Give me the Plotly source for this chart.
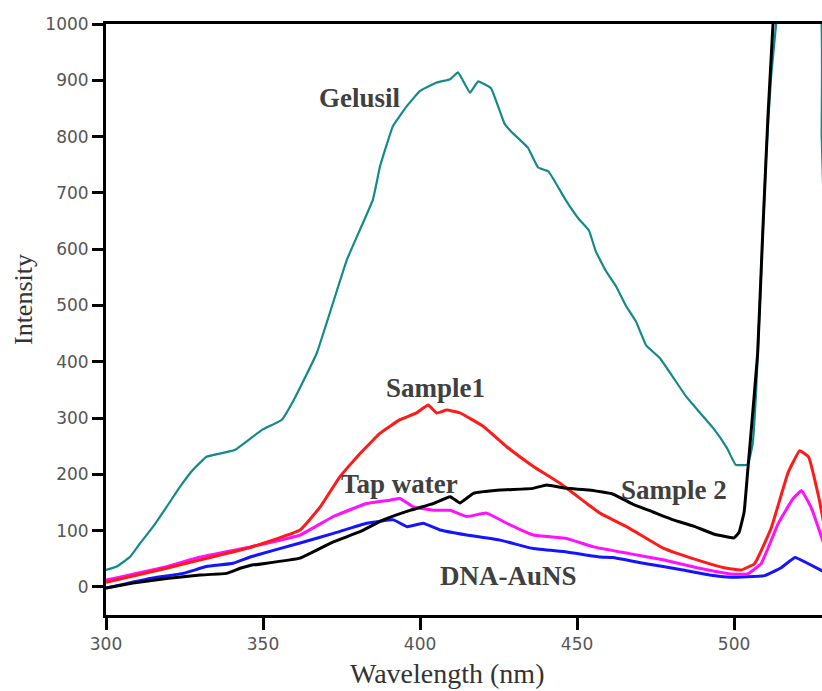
import plotly.graph_objects as go

# ---- data ----
gelusil_x = [300, 303.4, 307.6, 310.8, 315, 319.3, 323.6, 327.7, 332, 341, 349.7, 356, 359.8, 367.1,
             376.7, 385, 387.3, 391.4, 395.8, 400, 405.3, 409.6, 412.1, 415.9, 418.5, 422.6, 426.9,
             429, 434.4, 437.6, 440.9, 446.2, 450.5, 453.8, 455.9, 459.1, 462.4, 465.6, 468.8, 472,
             476.3, 480.6, 484.9, 489.2, 493.5, 497.8, 500.5, 504.3, 505.9, 507, 508.6, 510.2, 511.8,
             513.4, 515, 527.2, 527.9, 530]
gelusil_y = [30, 36, 53, 77, 107, 142, 178, 208, 231, 243, 279, 297, 332, 415,
             581, 688, 748, 819, 854, 881, 896, 902, 914, 878, 898, 886, 823,
             809, 780, 745, 738, 689, 654, 633, 597, 562, 534, 499, 471, 429,
             407, 372, 337, 309, 281, 246, 217, 217, 253, 344, 555, 766, 907,
             1000, 1100, 1050, 800, 400]

sample2_x = [300, 308.6, 319.3, 330, 338.4, 342.7, 345.9, 361.8, 372.4, 380.9, 388.3, 396.8, 404.2,
             409.6, 412.7, 417, 425.5, 436, 440.3, 446.7, 453.8, 461.3, 467.7, 474.2, 480.6, 487.1,
             493.5, 500, 501.6, 503.2, 504.3, 505.4, 507.5, 509.1, 510.8, 512.4, 514, 530]
sample2_y = [-2, 6.6, 15, 21, 24, 33, 38, 51, 80, 98, 119, 136, 148,
             160, 149, 166, 172, 175, 181, 175, 172, 165, 147, 133, 119, 108,
             94, 87, 97, 133, 203, 274, 414, 626, 837, 1000, 1150, 1150]

sample1_x = [300, 319.3, 330, 345.9, 361.8, 368.2, 374.5, 380.9, 387.3, 393.6, 398.9, 402.6, 405.3,
             408.5, 412.7, 420.2, 427.6, 436.1, 444.6, 453.1, 457.3, 466.7, 477.4, 488.2, 496.8,
             502.2, 506.5, 511.8, 517.2, 520.9, 523.7, 526.9, 528.6]
sample1_y = [8, 33, 48, 70, 101, 142, 196, 237, 273, 297, 309, 323, 309,
             314, 309, 285, 249, 214, 184, 148, 131, 104, 69, 48, 34,
             30, 41, 104, 203, 242, 231, 161, 112]

tap_x = [300, 319.3, 330, 345.9, 361.8, 372.4, 383, 390.4, 393.6, 397.9, 404.2, 409.6, 414.9, 421.2,
         427.6, 436.1, 446.7, 455.2, 466.7, 477.4, 488.2, 499, 504.3, 508.6, 514, 518.8, 521.5,
         524.7, 528.6]
tap_y = [12, 36, 53, 71, 92, 125, 148, 154, 157, 142, 136, 136, 125, 131,
         113, 92, 86, 71, 59, 48, 34, 23, 23, 41, 112, 157, 171,
         139, 76]

dna_x = [300, 314, 324.6, 332, 340.5, 345.9, 361.8, 372.4, 383, 391.5, 395.8, 401, 406.4, 414.9,
         425.5, 436.1, 446.7, 457.3, 461.3, 472, 482.8, 493.5, 498.9, 509.7, 515, 519.4, 523.7, 528.6]
dna_y = [-2, 15, 24, 36, 42, 53, 78, 95, 113, 119, 107, 113, 101, 92,
         83, 68, 62, 53, 52, 41, 31, 20, 17, 20, 34, 52, 41, 27]

x_ticks = [300, 350, 400, 450, 500]
y_ticks = [0, 100, 200, 300, 400, 500, 600, 700, 800, 900, 1000]

labels = ["Gelusil", "Sample1", "Tap water", "DNA-AuNS", "Sample 2"]
label_x = [381, 404.8, 393.5, 428.3, 481]
label_y = [868, 354, 183, 19, 172]

# ---- figure ----
fig = go.Figure()
series = [
    (gelusil_x, gelusil_y, "#13898a", 2.2),
    (dna_x, dna_y, "#1414ff", 3),
    (tap_x, tap_y, "#ff10ff", 3),
    (sample1_x, sample1_y, "#ff1a1a", 3),
    (sample2_x, sample2_y, "#000000", 3),
]
for xs, ys, col, w in series:
    fig.add_trace(go.Scatter(x=xs, y=ys, mode="lines",
                             line=dict(color=col, width=w, shape="spline", smoothing=0.3),
                             showlegend=False, hoverinfo="skip"))

for t, lx, ly in zip(labels, label_x, label_y):
    fig.add_annotation(x=lx, y=ly, text="<b>" + t + "</b>", showarrow=False,
                       font=dict(family="Liberation Serif", size=27, color="#404040"),
                       xanchor="center", yanchor="middle")

fig.add_annotation(xref="paper", yref="paper", x=0.476, y=-0.1286, text="Wavelength (nm)",
                   showarrow=False, xanchor="center", yanchor="bottom",
                   font=dict(family="Liberation Serif", size=28, color="#333333"))
fig.add_annotation(xref="paper", yref="paper", x=-0.1145, y=0.533, text="Intensity",
                   showarrow=False, textangle=-90, xanchor="center", yanchor="middle",
                   font=dict(family="Liberation Serif", size=26, color="#333333"))

tickfont = dict(family="DejaVu Sans", size=17, color="#555555")
fig.update_xaxes(range=[300, 528], tickmode="array", tickvals=x_ticks,
                 ticktext=[str(v) for v in x_ticks],
                 showline=True, linecolor="black", linewidth=3, mirror=True,
                 ticks="outside", ticklen=12, tickwidth=3, tickcolor="black",
                 showgrid=False, zeroline=False, tickfont=tickfont)
fig.update_yaxes(range=[-50, 1000], tickmode="array", tickvals=y_ticks,
                 ticktext=[str(v) for v in y_ticks],
                 showline=True, linecolor="black", linewidth=3, mirror=False,
                 ticks="outside", ticklen=11, tickwidth=3, tickcolor="black",
                 showgrid=False, zeroline=False, tickfont=tickfont)

fig.update_layout(width=822, height=691,
                  margin=dict(l=106, r=0, t=24, b=76, pad=0),
                  paper_bgcolor="white", plot_bgcolor="white")

fig.write_html("out.html", config={"displayModeBar": False},
               post_script="document.body.style.margin='0';document.body.style.overflow='hidden';")
